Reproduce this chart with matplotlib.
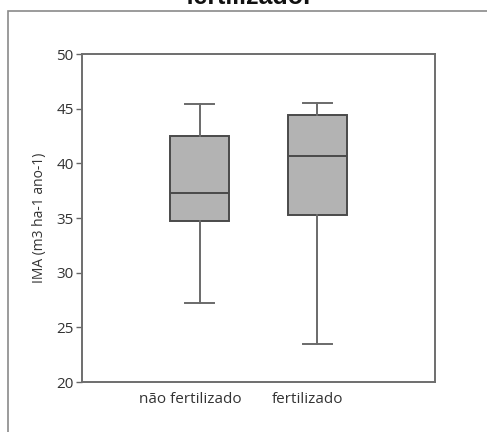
import matplotlib
matplotlib.use("Agg")
import matplotlib.pyplot as plt
import matplotlib.patches as patches

# --- dane ---
grupy = ["não fertilizado", "fertilizado"]
wasy_dol = [27.2, 23.5]
q1 = [34.7, 35.3]
mediana = [37.3, 40.7]
q3 = [42.5, 44.4]
wasy_gora = [45.4, 45.5]
y_ticks = [20, 25, 30, 35, 40, 45, 50]

plt.rcParams['font.family'] = ['Open Sans', 'DejaVu Sans']

fig = plt.figure(figsize=(4.87, 4.32), dpi=100)
ax = fig.add_axes([82 / 487, 1 - 382 / 432, (435 - 82) / 487, (382 - 54) / 432])

stats = []
for i in range(len(grupy)):
    stats.append({
        "label": grupy[i],
        "whislo": wasy_dol[i],
        "q1": q1[i],
        "med": mediana[i],
        "q3": q3[i],
        "whishi": wasy_gora[i],
        "fliers": [],
    })

ciemny = "#4a4a4a"
ax.bxp(stats, positions=[1, 2], widths=0.5, patch_artist=True,
       boxprops=dict(facecolor="#b3b3b3", edgecolor=ciemny, linewidth=1.4),
       medianprops=dict(color=ciemny, linewidth=1.4),
       whiskerprops=dict(color="#6a6a6a", linewidth=1.4),
       capprops=dict(color="#6a6a6a", linewidth=1.4),
       showfliers=False)

ax.set_xlim(0, 3)
ax.set_ylim(20, 50)
ax.set_yticks(y_ticks)
ax.set_xticks([0.92, 1.92])
ax.set_xticklabels(grupy)
ax.tick_params(axis="x", length=0, pad=7, labelsize=11, colors="#333333")
ax.tick_params(axis="y", length=4, width=1, color="#666666", labelsize=11,
               labelcolor="#333333", pad=2)
for s in ax.spines.values():
    s.set_color("#6e6e6e")
    s.set_linewidth(1.4)
ax.set_ylabel("IMA (m3 ha-1 ano-1)", fontsize=10, color="#333333", labelpad=7)

# --- ramka i obcięty tytuł ---
ramka = patches.Rectangle((8 / 487, -0.1), 1.2, 1.1 - 11 / 432, transform=fig.transFigure,
                          fill=False, edgecolor="#8a8a8a", linewidth=1.2, clip_on=False)
fig.patches.append(ramka)
fig.text(248 / 487, 1 - 4 / 432, "fertilizado.", ha="center", va="baseline",
         fontsize=18, family="Liberation Sans", weight="bold", color="#111111")

fig.savefig("out.png", dpi=100)
